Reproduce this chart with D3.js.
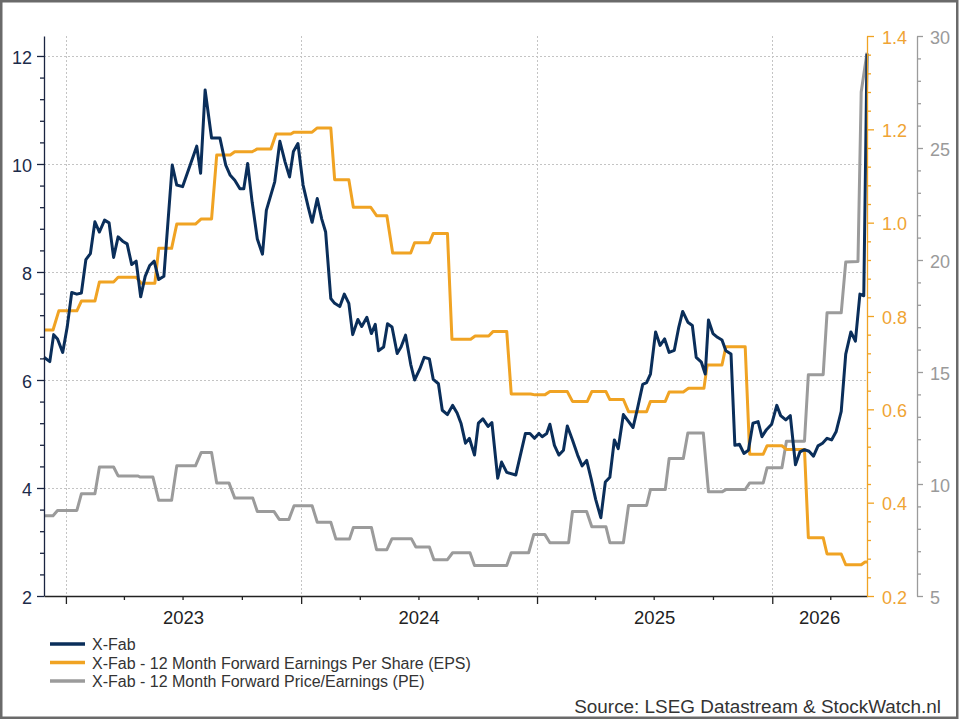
<!DOCTYPE html>
<html lang="en">
<head>
  <meta charset="UTF-8">
  <title>X-Fab price, EPS and PE</title>
  <script src="https://d3js.org/d3.v7.min.js"></script>
  <style>
    body { margin: 0; background: #fff; }
    svg { display: block; font-family: "Liberation Sans", Arial, sans-serif; }
  </style>
</head>
<body>
  <svg id="chart" width="960" height="720"></svg>

  <script>
    // X-Fab share price (weekly)
    const price = [
      ["2022-11-28",6.42],["2022-12-07",6.34],["2022-12-13",6.84],["2022-12-19",6.76],["2022-12-27",6.51],
      ["2023-01-03",6.98],["2023-01-10",7.62],["2023-01-18",7.59],["2023-01-25",7.61],["2023-02-01",8.23],
      ["2023-02-08",8.34],["2023-02-15",8.93],["2023-02-22",8.74],["2023-03-02",8.96],["2023-03-09",8.91],
      ["2023-03-16",8.27],["2023-03-23",8.65],["2023-03-30",8.57],["2023-04-06",8.52],["2023-04-13",8.14],
      ["2023-04-20",8.20],["2023-04-27",7.54],["2023-05-04",7.92],["2023-05-11",8.12],["2023-05-18",8.20],
      ["2023-05-25",7.86],["2023-06-02",7.92],["2023-06-15",9.98],["2023-06-22",9.61],["2023-07-01",9.58],
      ["2023-07-23",10.33],["2023-07-29",9.83],["2023-08-05",11.37],["2023-08-15",10.48],["2023-08-28",10.48],
      ["2023-09-06",9.98],["2023-09-13",9.79],["2023-09-20",9.70],["2023-09-28",9.54],["2023-10-04",9.54],
      ["2023-10-10",10.01],["2023-10-17",9.29],["2023-10-25",8.61],["2023-11-02",8.33],["2023-11-08",9.14],
      ["2023-11-21",9.67],["2023-11-29",10.42],["2023-12-07",10.04],["2023-12-14",9.76],["2023-12-20",10.23],
      ["2023-12-27",10.38],["2024-01-04",9.61],["2024-01-12",9.20],["2024-01-18",8.92],["2024-01-26",9.36],
      ["2024-02-02",8.98],["2024-02-08",8.74],["2024-02-16",7.51],["2024-02-22",7.42],["2024-03-01",7.36],
      ["2024-03-08",7.59],["2024-03-15",7.42],["2024-03-21",6.84],["2024-03-29",7.12],["2024-04-04",6.99],
      ["2024-04-12",7.16],["2024-04-19",6.86],["2024-04-25",7.03],["2024-04-30",6.54],["2024-05-08",6.61],
      ["2024-05-14",7.04],["2024-05-21",6.98],["2024-05-29",6.49],["2024-06-04",6.61],["2024-06-11",6.83],
      ["2024-06-19",6.29],["2024-06-25",6.00],["2024-07-03",6.20],["2024-07-10",6.42],["2024-07-18",6.39],
      ["2024-07-24",6.01],["2024-08-01",5.93],["2024-08-07",5.44],["2024-08-15",5.36],["2024-08-23",5.53],
      ["2024-08-30",5.39],["2024-09-05",5.20],["2024-09-12",4.83],["2024-09-18",4.92],["2024-09-26",4.61],
      ["2024-10-02",5.20],["2024-10-09",5.28],["2024-10-17",5.14],["2024-10-23",5.21],["2024-11-01",4.18],
      ["2024-11-07",4.48],["2024-11-15",4.29],["2024-11-29",4.24],["2024-12-14",5.01],["2024-12-21",5.01],
      ["2024-12-28",4.92],["2025-01-04",5.01],["2025-01-09",4.95],["2025-01-16",5.01],["2025-01-21",5.18],
      ["2025-01-28",4.79],["2025-02-04",4.61],["2025-02-11",4.70],["2025-02-17",5.15],["2025-02-25",4.89],
      ["2025-03-05",4.61],["2025-03-12",4.41],["2025-03-19",4.51],["2025-03-26",4.17],["2025-04-02",3.79],
      ["2025-04-10",3.45],["2025-04-17",4.11],["2025-04-24",4.20],["2025-05-01",4.89],["2025-05-07",4.73],
      ["2025-05-15",5.36],["2025-05-30",5.12],["2025-06-06",5.48],["2025-06-14",5.92],["2025-06-20",5.95],
      ["2025-06-26",6.11],["2025-07-04",6.89],["2025-07-11",6.64],["2025-07-18",6.76],["2025-07-25",6.51],
      ["2025-08-02",6.55],["2025-08-09",6.98],["2025-08-15",7.27],["2025-08-23",7.07],["2025-08-30",7.01],
      ["2025-09-05",6.42],["2025-09-13",6.33],["2025-09-19",6.11],["2025-09-24",7.11],["2025-10-01",6.86],
      ["2025-10-08",6.79],["2025-10-15",6.74],["2025-10-21",6.54],["2025-10-29",6.48],["2025-11-04",4.79],
      ["2025-11-11",4.81],["2025-11-18",4.64],["2025-11-25",4.70],["2025-12-02",5.20],["2025-12-10",5.23],
      ["2025-12-16",4.95],["2025-12-23",5.08],["2025-12-31",5.18],["2026-01-08",5.53],["2026-01-14",5.34],
      ["2026-01-22",5.26],["2026-01-29",5.34],["2026-02-06",4.43],["2026-02-13",4.67],["2026-02-20",4.71],
      ["2026-02-27",4.68],["2026-03-06",4.59],["2026-03-13",4.78],["2026-03-20",4.83],["2026-03-27",4.92],
      ["2026-04-03",4.89],["2026-04-10",5.04],["2026-04-18",5.42],["2026-04-25",6.48],["2026-05-03",6.89],
      ["2026-05-10",6.72],["2026-05-17",7.59],["2026-05-23",7.56],["2026-05-28",12.04]
    ];

    // 12 month forward EPS (right axis 1)
    const eps = [
      ["2022-11-28",0.770],["2022-12-12",0.770],["2022-12-21",0.811],["2023-01-18",0.811],["2023-01-25",0.832],
      ["2023-02-15",0.832],["2023-02-22",0.873],["2023-03-16",0.873],["2023-03-23",0.883],["2023-04-20",0.883],
      ["2023-04-28",0.870],["2023-05-19",0.870],["2023-05-25",0.945],["2023-06-14",0.945],["2023-06-22",0.997],
      ["2023-07-21",0.997],["2023-07-30",1.008],["2023-08-15",1.008],["2023-08-23",1.145],["2023-09-13",1.145],
      ["2023-09-20",1.152],["2023-10-17",1.152],["2023-10-25",1.158],["2023-11-15",1.158],["2023-11-23",1.190],
      ["2023-12-16",1.190],["2023-12-21",1.194],["2024-01-18",1.194],["2024-01-26",1.203],["2024-02-16",1.203],
      ["2024-02-22",1.092],["2024-03-15",1.092],["2024-03-22",1.033],["2024-04-18",1.033],["2024-04-27",1.015],
      ["2024-05-13",1.015],["2024-05-22",0.935],["2024-06-19",0.935],["2024-06-25",0.957],["2024-07-18",0.957],
      ["2024-07-24",0.977],["2024-08-15",0.977],["2024-08-22",0.750],["2024-09-20",0.750],["2024-09-27",0.757],
      ["2024-10-18",0.757],["2024-10-25",0.767],["2024-11-15",0.767],["2024-11-22",0.633],["2024-12-22",0.633],
      ["2024-12-29",0.631],["2025-01-13",0.631],["2025-01-21",0.638],["2025-02-17",0.638],["2025-02-25",0.617],
      ["2025-03-20",0.617],["2025-03-27",0.638],["2025-04-18",0.638],["2025-04-24",0.621],["2025-05-15",0.621],
      ["2025-05-23",0.595],["2025-06-20",0.595],["2025-06-26",0.617],["2025-07-19",0.617],["2025-07-25",0.637],
      ["2025-08-16",0.637],["2025-08-24",0.645],["2025-09-17",0.645],["2025-09-22",0.695],["2025-10-15",0.695],
      ["2025-10-21",0.734],["2025-11-20",0.734],["2025-11-27",0.504],["2025-12-18",0.504],["2025-12-24",0.522],
      ["2026-01-16",0.522],["2026-01-23",0.514],["2026-02-20",0.514],["2026-02-26",0.325],["2026-03-21",0.325],
      ["2026-03-27",0.290],["2026-04-18",0.290],["2026-04-25",0.267],["2026-05-19",0.267],["2026-05-25",0.273],
      ["2026-05-28",0.273]
    ];

    // 12 month forward PE (right axis 2)
    const pe = [
      ["2022-11-28",8.58],["2022-12-12",8.58],["2022-12-19",8.82],["2023-01-18",8.82],["2023-01-25",9.56],
      ["2023-02-15",9.56],["2023-02-22",10.76],["2023-03-16",10.76],["2023-03-23",10.36],["2023-04-23",10.36],
      ["2023-04-26",10.31],["2023-05-16",10.31],["2023-05-25",9.27],["2023-06-14",9.27],["2023-06-22",10.81],
      ["2023-07-21",10.81],["2023-07-30",11.41],["2023-08-15",11.41],["2023-08-23",10.05],["2023-09-11",10.05],
      ["2023-09-20",9.37],["2023-10-18",9.37],["2023-10-25",8.77],["2023-11-20",8.77],["2023-11-28",8.42],
      ["2023-12-13",8.42],["2023-12-21",9.03],["2024-01-18",9.03],["2024-01-26",8.29],["2024-02-16",8.29],
      ["2024-02-24",7.54],["2024-03-16",7.54],["2024-03-22",8.06],["2024-04-19",8.06],["2024-04-27",7.07],
      ["2024-05-13",7.07],["2024-05-21",7.56],["2024-06-20",7.56],["2024-06-27",7.19],["2024-07-18",7.19],
      ["2024-07-25",6.62],["2024-08-15",6.62],["2024-08-23",6.93],["2024-09-19",6.93],["2024-09-26",6.36],
      ["2024-11-15",6.36],["2024-11-22",6.93],["2024-12-19",6.93],["2024-12-27",7.75],["2025-01-13",7.75],
      ["2025-01-21",7.38],["2025-02-19",7.38],["2025-02-25",8.77],["2025-03-19",8.77],["2025-03-27",8.09],
      ["2025-04-18",8.09],["2025-04-24",7.38],["2025-05-15",7.38],["2025-05-23",9.04],["2025-06-20",9.04],
      ["2025-06-26",9.75],["2025-07-19",9.75],["2025-07-25",11.14],["2025-08-16",11.14],["2025-08-23",12.28],
      ["2025-09-16",12.28],["2025-09-24",9.65],["2025-10-15",9.65],["2025-10-21",9.75],["2025-11-20",9.75],
      ["2025-11-27",10.05],["2025-12-18",10.05],["2025-12-24",10.73],["2026-01-16",10.73],["2026-01-23",11.91],
      ["2026-02-20",11.91],["2026-02-26",14.88],["2026-03-21",14.88],["2026-03-27",17.64],["2026-04-18",17.64],
      ["2026-04-25",19.91],["2026-05-14",19.93],["2026-05-19",27.50],["2026-05-28",29.25]
    ];

    const years = ["2023", "2024", "2025", "2026"];
    const priceTicks = [2, 4, 6, 8, 10, 12];
    const epsTicks = [0.2, 0.4, 0.6, 0.8, 1.0, 1.2, 1.4];
    const peTicks = [5, 10, 15, 20, 25, 30];

    const seriesNames = [
      "X-Fab",
      "X-Fab - 12 Month Forward Earnings Per Share (EPS)",
      "X-Fab - 12 Month Forward Price/Earnings (PE)"
    ];

    const navy = "#0a2e5a", orange = "#f0a323", grey = "#9b9b9b";
    const parse = d3.timeParse("%Y-%m-%d");

    const svg = d3.select("#chart");
    const plotL = 44, plotR = 867, plotT = 36, plotB = 596;

    // frame around the picture
    svg.append("rect")
      .attr("x", 1.25).attr("y", 1.25)
      .attr("width", 956).attr("height", 716.5)
      .attr("fill", "#fff")
      .attr("stroke", "#6a6a6a")
      .attr("stroke-width", 2.5);

    const x = d3.scaleTime()
      .domain([parse("2022-11-28"), parse("2026-05-28")])
      .range([plotL, plotR]);
    const yP = d3.scaleLinear().domain([2, 12.37]).range([plotB, plotT]);
    const yE = d3.scaleLinear().domain([0.2, 1.4]).range([plotB, plotT]);
    const yR = d3.scaleLinear().domain([5, 30]).range([plotB, plotT]);

    // gridlines
    const grid = svg.append("g")
      .attr("stroke", "#c4c4c4")
      .attr("stroke-width", 1)
      .attr("stroke-dasharray", "2,2");
    grid.selectAll(".hg").data(priceTicks.filter(d => d > 2)).join("line")
      .attr("x1", plotL).attr("x2", plotR)
      .attr("y1", d => Math.round(yP(d)) + 0.5).attr("y2", d => Math.round(yP(d)) + 0.5);
    const yearStarts = years.map(y => parse(y + "-01-01"));
    grid.selectAll(".vg").data(yearStarts).join("line")
      .attr("x1", d => Math.round(x(d)) + 0.5).attr("x2", d => Math.round(x(d)) + 0.5)
      .attr("y1", plotT).attr("y2", plotB);

    // lines
    const line = (yScale) => d3.line()
      .x(d => x(parse(d[0])))
      .y(d => yScale(d[1]));

    const plot = svg.append("g").attr("fill", "none")
      .attr("stroke-width", 3).attr("stroke-linejoin", "round");
    plot.append("path").datum(pe).attr("stroke", grey).attr("d", line(yR));
    plot.append("path").datum(eps).attr("stroke", orange).attr("d", line(yE));
    plot.append("path").datum(price).attr("stroke", navy).attr("d", line(yP));

    // left axis
    const minorP = d3.range(2, 12.37, 0.4).filter(v => Math.abs(v / 2 - Math.round(v / 2)) > 0.01);
    const axL = svg.append("g").attr("transform", `translate(${plotL},0)`);
    axL.call(d3.axisLeft(yP).tickValues(priceTicks).tickFormat(d3.format("d"))
      .tickSize(7).tickPadding(5).tickSizeOuter(0));
    axL.append("g").call(d3.axisLeft(yP).tickValues(minorP).tickFormat("").tickSize(4).tickSizeOuter(0))
      .select(".domain").remove();
    axL.selectAll("line, path").attr("stroke", "#1a2440").attr("stroke-width", 1.3);
    axL.selectAll("text").attr("font-size", 18).attr("fill", "#1c2b4a").attr("dy", "0.4em");

    // bottom axis
    const axB = svg.append("g").attr("transform", `translate(0,${plotB})`);
    axB.call(d3.axisBottom(x).tickValues(yearStarts).tickFormat("").tickSize(8).tickSizeOuter(0));
    axB.append("g").call(d3.axisBottom(x)
        .tickValues(d3.timeMonth.range(parse("2023-04-01"), parse("2026-05-28"), 3).filter(d => d.getMonth() !== 0))
        .tickFormat("").tickSize(4).tickSizeOuter(0))
      .select(".domain").remove();
    axB.selectAll("line, path").attr("stroke", "#222").attr("stroke-width", 1.3);
    const [d0, d1] = x.domain();
    axB.selectAll(".yl").data(years).join("text")
      .attr("x", y => {
        const s = parse(y + "-01-01"), e = parse((+y + 1) + "-01-01");
        return (x(s < d0 ? d0 : s) + x(e > d1 ? d1 : e)) / 2;
      })
      .attr("y", 28)
      .attr("text-anchor", "middle")
      .attr("font-size", 18.5)
      .attr("fill", "#222")
      .text(y => y);

    // EPS axis
    const minorE = d3.range(0.2, 1.41, 0.04).filter(v => Math.abs(v * 5 - Math.round(v * 5)) > 0.01);
    const axE = svg.append("g").attr("transform", `translate(${plotR},0)`);
    axE.call(d3.axisRight(yE).tickValues(epsTicks).tickFormat(d3.format(".1f"))
      .tickSize(7).tickPadding(8).tickSizeOuter(0));
    axE.append("g").call(d3.axisRight(yE).tickValues(minorE).tickFormat("").tickSize(4).tickSizeOuter(0))
      .select(".domain").remove();
    axE.selectAll("line, path").attr("stroke", orange).attr("stroke-width", 1.3);
    axE.selectAll("text").attr("font-size", 18).attr("fill", "#efa434").attr("dy", "0.4em");

    // PE axis
    const minorR = d3.range(5, 30.1, 1).filter(v => v % 5 !== 0);
    const axR = svg.append("g").attr("transform", `translate(917,0)`);
    axR.call(d3.axisRight(yR).tickValues(peTicks).tickFormat(d3.format("d"))
      .tickSize(6).tickPadding(7).tickSizeOuter(0));
    axR.append("g").call(d3.axisRight(yR).tickValues(minorR).tickFormat("").tickSize(4).tickSizeOuter(0))
      .select(".domain").remove();
    axR.selectAll("line, path").attr("stroke", grey).attr("stroke-width", 1.3);
    axR.selectAll("text").attr("font-size", 18).attr("fill", "#9a9a9a").attr("dy", "0.4em");

    // legend
    const legend = svg.append("g").attr("transform", "translate(50,644)");
    const legColors = [navy, orange, grey];
    const items = legend.selectAll("g").data(seriesNames).join("g")
      .attr("transform", (d, i) => `translate(0,${i * 18.5})`);
    items.append("line")
      .attr("x1", 0).attr("x2", 35)
      .attr("stroke", (d, i) => legColors[i])
      .attr("stroke-width", 3.5);
    items.append("text")
      .attr("x", 42).attr("y", 6)
      .attr("font-size", 16)
      .attr("fill", "#333")
      .text(d => d);

    // source
    svg.append("text")
      .attr("x", 941).attr("y", 713)
      .attr("text-anchor", "end")
      .attr("font-size", 18.9)
      .attr("fill", "#333")
      .text("Source: LSEG Datastream & StockWatch.nl");
  </script>
</body>
</html>
